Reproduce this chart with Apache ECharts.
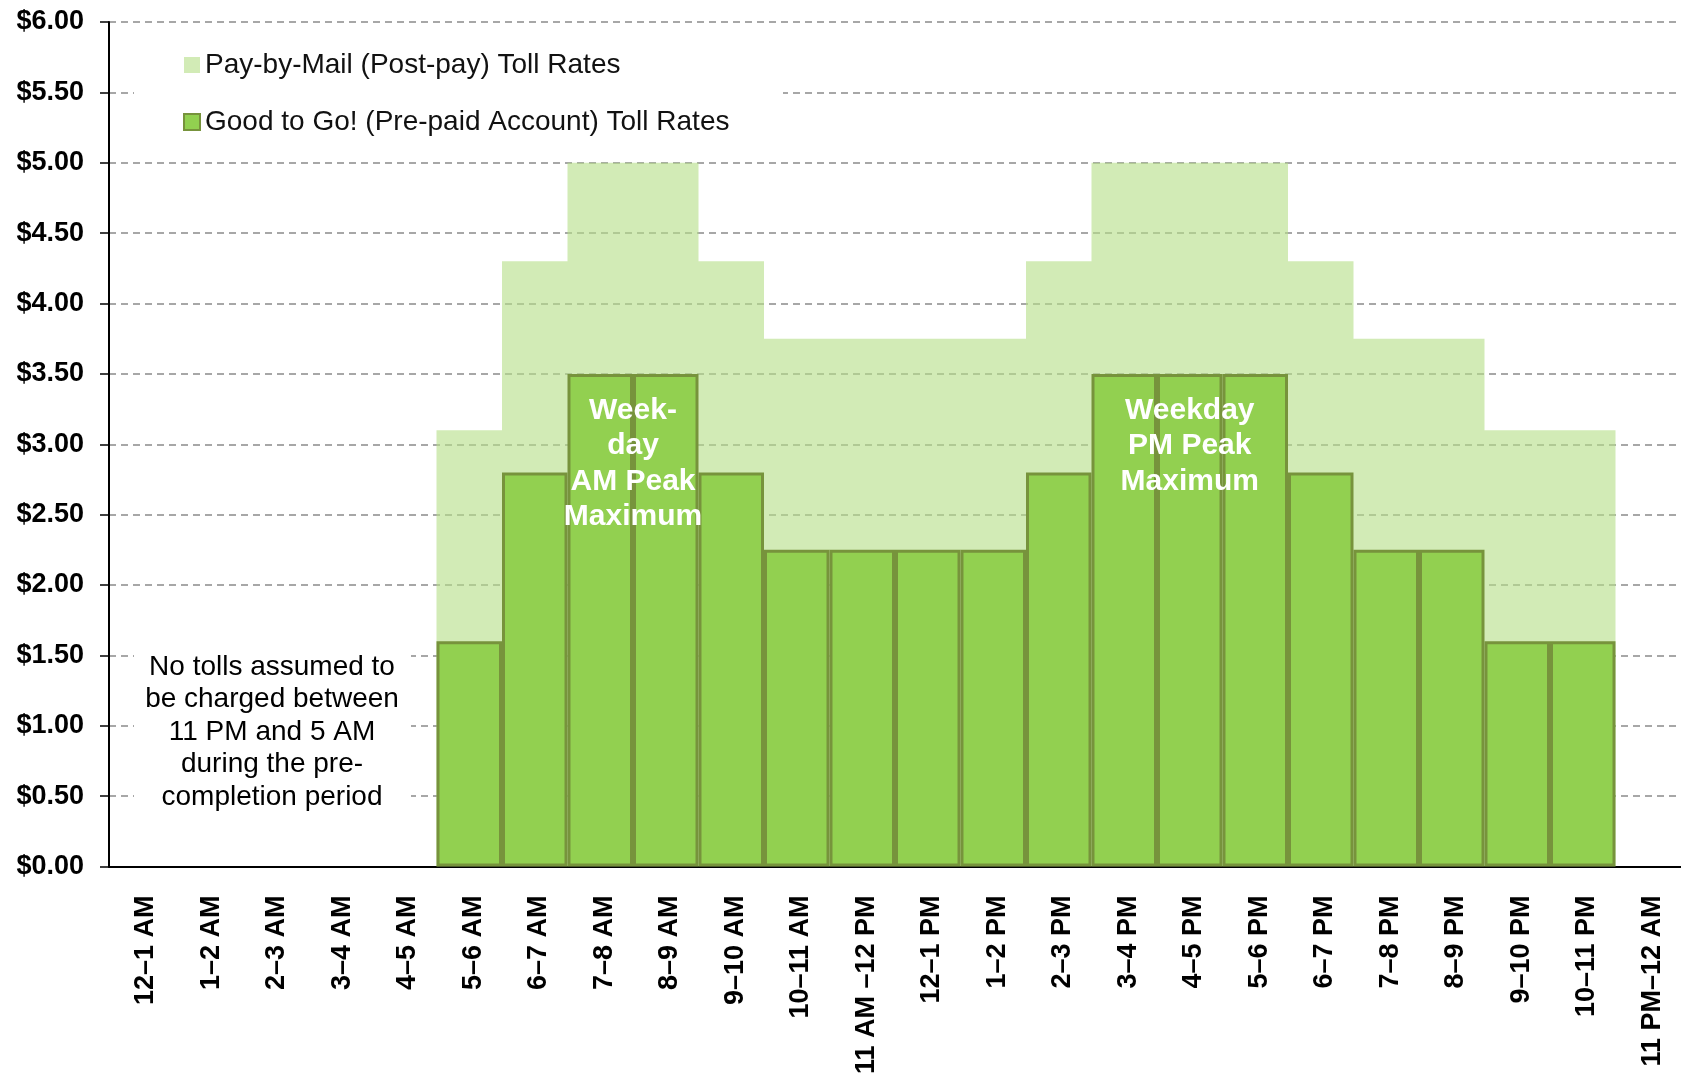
<!DOCTYPE html>
<html>
<head>
<meta charset="utf-8">
<title>Toll Rates by Hour</title>
<script src="https://cdn.jsdelivr.net/npm/echarts@6/dist/echarts.min.js"></script>
<style>
  html, body { margin: 0; padding: 0; background: #fff; }
  #tollChart { width: 1681px; height: 1081px; }
</style>
</head>
<body>
<div id="tollChart"></div>
<script>
const hours = [
  '12–1 AM', '1–2 AM', '2–3 AM', '3–4 AM', '4–5 AM', '5–6 AM', '6–7 AM', '7–8 AM',
  '8–9 AM', '9–10 AM', '10–11 AM', '11 AM –12 PM', '12–1 PM', '1–2 PM', '2–3 PM',
  '3–4 PM', '4–5 PM', '5–6 PM', '6–7 PM', '7–8 PM', '8–9 PM', '9–10 PM', '10–11 PM',
  '11 PM–12 AM'
];
const payByMail = [0, 0, 0, 0, 0, 3.10, 4.30, 5.00, 5.00, 4.30, 3.75, 3.75, 3.75, 3.75,
  4.30, 5.00, 5.00, 5.00, 4.30, 3.75, 3.75, 3.10, 3.10, 0];
const goodToGo = [0, 0, 0, 0, 0, 1.60, 2.80, 3.50, 3.50, 2.80, 2.25, 2.25, 2.25, 2.25,
  2.80, 3.50, 3.50, 3.50, 2.80, 2.25, 2.25, 1.60, 1.60, 0];
const seriesNames = ['Pay-by-Mail (Post-pay) Toll Rates', 'Good to Go! (Pre-paid Account) Toll Rates'];
const noTollNote = 'No tolls assumed to\nbe charged between\n11 PM and 5 AM\nduring the pre-\ncompletion period';
const amPeakNote = 'Week-\nday\nAM Peak\nMaximum';
const pmPeakNote = 'Weekday\nPM Peak\nMaximum';

const FONT = "'Liberation Sans', Arial, sans-serif";
const chartDom = document.getElementById('tollChart');
const myChart = echarts.init(chartDom);

// no outline on the empty overnight hours
const goodToGoData = goodToGo.map(v => (v === 0 ? { value: v, itemStyle: { borderWidth: 0 } } : v));

myChart.setOption({
  animation: false,
  backgroundColor: '#fff',
  textStyle: { fontFamily: FONT },
  grid: { left: 109, right: 0, top: 22, bottom: 214.5 },
  legend: {
    orient: 'vertical',
    left: 178,
    top: 46,
    itemWidth: 16,
    itemHeight: 16,
    itemGap: 29,
    data: [
      { name: seriesNames[0], icon: 'rect' },
      { name: seriesNames[1], icon: 'rect' }
    ],
    textStyle: { fontSize: 28, color: '#111', fontFamily: FONT, lineHeight: 28 }
  },
  xAxis: {
    type: 'category',
    data: hours,
    axisLine: { lineStyle: { color: '#000', width: 2 } },
    axisTick: { show: false },
    axisLabel: {
      rotate: 90,
      interval: 0,
      margin: 29,
      verticalAlign: 'top',
      lineHeight: 8,
      color: '#000',
      fontSize: 27,
      fontWeight: 'bold',
      fontFamily: FONT
    }
  },
  yAxis: {
    type: 'value',
    min: 0,
    max: 6,
    interval: 0.5,
    axisLine: { show: true, lineStyle: { color: '#000', width: 2 } },
    axisTick: { show: true, length: 9, lineStyle: { color: '#000', width: 1.5 } },
    axisLabel: {
      margin: 25,
      color: '#000',
      fontSize: 27,
      fontWeight: 'bold',
      fontFamily: FONT,
      formatter: v => '$' + v.toFixed(2)
    },
    splitLine: { lineStyle: { color: '#8a8a8a', type: [7, 5], width: 1.5 } }
  },
  series: [
    {
      name: seriesNames[0],
      type: 'bar',
      data: payByMail,
      barGap: '-100%',
      barCategoryGap: '0%',
      large: true,
      largeThreshold: 1,
      itemStyle: { color: '#b6df89', opacity: 0.62 }
    },
    {
      name: seriesNames[1],
      type: 'bar',
      data: goodToGoData,
      barGap: '-100%',
      barCategoryGap: '0%',
      itemStyle: { color: '#92d050', borderColor: '#77933c', borderWidth: 3 }
    }
  ]
});

// peak labels sit just under the top of the Good to Go bars
const amX = (myChart.convertToPixel({ gridIndex: 0 }, [7, 0])[0] +
             myChart.convertToPixel({ gridIndex: 0 }, [8, 0])[0]) / 2;
const amTop = myChart.convertToPixel({ gridIndex: 0 }, [7, goodToGo[7]])[1] + 19;
const pmPt = myChart.convertToPixel({ gridIndex: 0 }, [16, goodToGo[16]]);

myChart.setOption({
  graphic: [
    { type: 'rect', left: 134, top: 34, z: 3, shape: { width: 649, height: 112 }, style: { fill: '#fff' } },
    { type: 'rect', left: 134, top: 640, z: 3, shape: { width: 277, height: 175 }, style: { fill: '#fff' } },
    {
      type: 'text', x: 272, y: 651, z: 4,
      style: { text: noTollNote, align: 'center', verticalAlign: 'top', fontSize: 28, lineHeight: 32.4, fontFamily: FONT, fill: '#000' }
    },
    {
      type: 'text', x: amX, y: amTop, z: 5,
      style: { text: amPeakNote, align: 'center', verticalAlign: 'top', fontSize: 30, fontWeight: 'bold', lineHeight: 35.4, fontFamily: FONT, fill: '#fff' }
    },
    {
      type: 'text', x: pmPt[0], y: pmPt[1] + 19, z: 5,
      style: { text: pmPeakNote, align: 'center', verticalAlign: 'top', fontSize: 30, fontWeight: 'bold', lineHeight: 35.4, fontFamily: FONT, fill: '#fff' }
    }
  ]
});

window.addEventListener('resize', () => {
  myChart.resize();
});
</script>
</body>
</html>
